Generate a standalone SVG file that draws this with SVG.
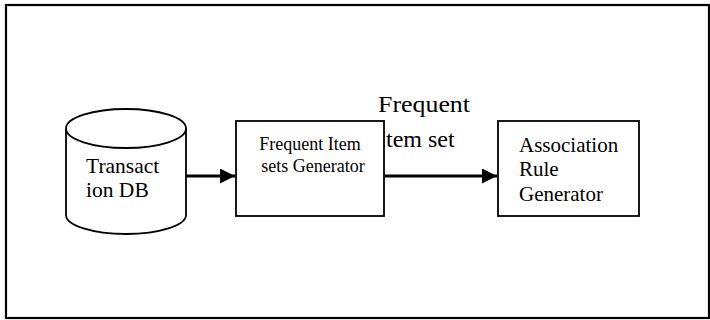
<svg xmlns="http://www.w3.org/2000/svg" width="710" height="320" viewBox="0 0 710 320">
<style>
.t{font-family:"Liberation Serif","Times New Roman",serif;fill:#000}
.shape{fill:#fff;stroke:#000;stroke-width:1.8}
.conn{stroke:#000;stroke-width:3;fill:none}
</style>
<defs>
<marker id="ah" markerUnits="userSpaceOnUse" markerWidth="16" markerHeight="16" refX="15" refY="7.5" orient="auto">
<path d="M0,0 L15,7.5 L0,15 Z" fill="#000"/>
</marker>
</defs>
<rect x="0" y="0" width="710" height="320" fill="#fff"/>
<rect x="6" y="5" width="703" height="313" fill="none" stroke="#000" stroke-width="2.2"/>
<g id="label-frequent-item-set">
<text class="t" x="378" y="112" font-size="24" textLength="92" lengthAdjust="spacingAndGlyphs">Frequent</text>
<text class="t" x="378" y="147" font-size="24">Item set</text>
</g>
<g id="node-db">
<path class="shape" d="M66,128.5 L66,215 A60,19 0 0 0 186,215 L186,128.5"/>
<ellipse class="shape" cx="126" cy="128.5" rx="60" ry="19.5"/>
<text class="t" x="86" y="173" font-size="21.5">Transact</text>
<text class="t" x="86" y="197" font-size="21.5">ion DB</text>
</g>
<g id="node-fisg">
<rect class="shape" x="236" y="121" width="148" height="95"/>
<text class="t" x="310" y="150" font-size="18" text-anchor="middle">Frequent Item</text>
<text class="t" x="313" y="172" font-size="18" text-anchor="middle">sets Generator</text>
</g>
<g id="node-arg">
<rect class="shape" x="498" y="121" width="141" height="95"/>
<text class="t" x="519" y="152" font-size="21">Association</text>
<text class="t" x="519" y="176" font-size="21">Rule</text>
<text class="t" x="519" y="201" font-size="21">Generator</text>
</g>
<g id="connectors">
<line class="conn" x1="186" y1="176" x2="235" y2="176" marker-end="url(#ah)"/>
<line class="conn" x1="385" y1="176" x2="497" y2="176" marker-end="url(#ah)"/>
</g>
</svg>
